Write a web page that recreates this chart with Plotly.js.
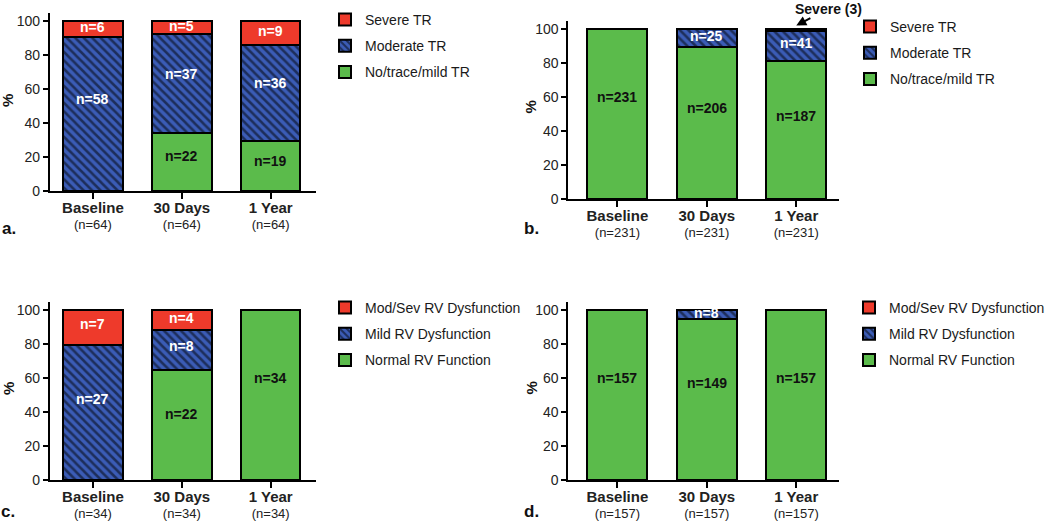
<!DOCTYPE html>
<html>
<head>
<meta charset="utf-8">
<script src="https://cdn.plot.ly/plotly-3.0.1.min.js"></script>
<style>html,body{margin:0;padding:0;background:#fff;}#chart{width:1050px;height:523px;}</style>
</head>
<body>
<div id="chart"></div>
<script>
// ---------- data ----------
const categories = ['Baseline', '30 Days', '1 Year'];

// Panel a: TR, n=64
const totalA = [64, 64, 64];
const mildTrA = [0, 22, 19];
const modTrA = [58, 37, 36];
const sevTrA = [6, 5, 9];

// Panel b: TR, n=231
const totalB = [231, 231, 231];
const mildTrB = [231, 206, 187];
const modTrB = [0, 25, 41];
const sevTrB = [0, 0, 3];

// Panel c: RV function, n=34
const totalC = [34, 34, 34];
const normRvC = [0, 22, 34];
const mildRvC = [27, 8, 0];
const sevRvC = [7, 4, 0];

// Panel d: RV function, n=157
const totalD = [157, 157, 157];
const normRvD = [157, 149, 157];
const mildRvD = [0, 8, 0];
const sevRvD = [0, 0, 0];

const trNames = ['No/trace/mild TR', 'Moderate TR', 'Severe TR'];
const rvNames = ['Normal RV Function', 'Mild RV Dysfunction', 'Mod/Sev RV Dysfunction'];

// ---------- style ----------
const FONT = 'Liberation Sans, Arial, Helvetica, sans-serif';
const GREEN = '#5bbb4b';
const BLUE = '#3b5cb6';
const RED = '#ee3a2b';
const segColors = [GREEN, BLUE, RED];
const segTextColors = ['#111', '#fff', '#fff'];

const panels = [
  {xa: 'x', ya: 'y', leg: 'legend', totals: totalA, segs: [mildTrA, modTrA, sevTrA], names: trNames},
  {xa: 'x2', ya: 'y2', leg: 'legend2', totals: totalB, segs: [mildTrB, modTrB, sevTrB], names: trNames},
  {xa: 'x3', ya: 'y3', leg: 'legend3', totals: totalC, segs: [normRvC, mildRvC, sevRvC], names: rvNames},
  {xa: 'x4', ya: 'y4', leg: 'legend4', totals: totalD, segs: [normRvD, mildRvD, sevRvD], names: rvNames}
];

const traces = [];
const annotations = [];

panels.forEach((p, pi) => {
  const pct = p.segs.map(s => s.map((v, i) => v / p.totals[i] * 100));
  pct.forEach((vals, si) => {
    const marker = {color: segColors[si], line: {color: '#000', width: 2}};
    if (si === 1) {
      marker.pattern = {shape: '\\', bgcolor: BLUE, fgcolor: '#000', size: 6, solidity: 0.42, fillmode: 'overlay'};
    }
    traces.push({
      type: 'bar', x: categories, y: vals, name: p.names[si],
      xaxis: p.xa, yaxis: p.ya, legend: p.leg, legendgroup: p.leg + '_' + si,
      legendrank: 10 - si,
      marker: marker, hoverinfo: 'skip', showlegend: true
    });
    // segment labels
    vals.forEach((v, ci) => {
      if (v < 2) return;
      let base = 0;
      for (let k = 0; k < si; k++) base += pct[k][ci];
      annotations.push({
        xref: p.xa, yref: p.ya, x: categories[ci], y: base + v * 0.6,
        text: '<b>n=' + p.segs[si][ci] + '</b>', showarrow: false,
        font: {family: FONT, size: 14, color: segTextColors[si]}
      });
    });
  });
});

// tick labels
function tickText(totals) {
  return categories.map((c, i) => '<span style="font-size:15px;font-weight:bold">' + c + '</span><br><span style="font-size:13px">(n=' + totals[i] + ')</span>');
}

const xCommon = {
  type: 'category', showgrid: false, zeroline: false, showline: true, linecolor: '#000', linewidth: 2,
  ticks: 'outside', ticklen: 6, tickwidth: 2, tickcolor: '#000',
  tickfont: {family: FONT, size: 12, color: '#222'}, fixedrange: true
};
const yCommon = {
  range: [0, 105], showgrid: false, zeroline: false, showline: true, linecolor: '#000', linewidth: 2,
  ticks: 'outside', ticklen: 5, tickwidth: 2, tickcolor: '#000', tickvals: [0, 20, 40, 60, 80, 100],
  tickfont: {family: FONT, size: 14, color: '#222'}, fixedrange: true
};

const W = 1050, H = 523;
const px = v => v / W;
const py = v => 1 - v / H;

const layout = {
  width: W, height: H, margin: {l: 0, r: 0, t: 0, b: 0},
  paper_bgcolor: '#fff', plot_bgcolor: '#fff',
  barmode: 'stack', bargap: 0.33,
  font: {family: FONT, color: '#222'},
  xaxis: Object.assign({}, xCommon, {domain: [px(50), px(316)], range: [-0.483, 2.506], anchor: 'y', tickvals: categories, ticktext: tickText(totalA)}),
  yaxis: Object.assign({}, yCommon, {domain: [py(191), py(12.5)], anchor: 'x'}),
  xaxis2: Object.assign({}, xCommon, {domain: [px(569), px(840)], range: [-0.547, 2.48], anchor: 'y2', tickvals: categories, ticktext: tickText(totalB)}),
  yaxis2: Object.assign({}, yCommon, {domain: [py(199), py(20.5)], anchor: 'x2'}),
  xaxis3: Object.assign({}, xCommon, {domain: [px(50), px(316)], range: [-0.483, 2.506], anchor: 'y3', tickvals: categories, ticktext: tickText(totalC)}),
  yaxis3: Object.assign({}, yCommon, {domain: [py(480), py(301.5)], anchor: 'x3'}),
  xaxis4: Object.assign({}, xCommon, {domain: [px(569), px(840)], range: [-0.547, 2.48], anchor: 'y4', tickvals: categories, ticktext: tickText(totalD)}),
  yaxis4: Object.assign({}, yCommon, {domain: [py(480), py(301.5)], anchor: 'x4'}),
  annotations: annotations,
  showlegend: true
};

const legCommon = {
  xanchor: 'left', yanchor: 'top', traceorder: 'grouped', tracegroupgap: 5,
  font: {family: FONT, size: 14, color: '#1a1a1a'}, bgcolor: 'rgba(0,0,0,0)', borderwidth: 0
};
layout.legend = Object.assign({}, legCommon, {x: px(325), y: py(4)});
layout.legend2 = Object.assign({}, legCommon, {x: px(850), y: py(11)});
layout.legend3 = Object.assign({}, legCommon, {x: px(325), y: py(292)});
layout.legend4 = Object.assign({}, legCommon, {x: px(850), y: py(292)});

// "%" axis titles
[[8, 100], [532, 107], [8, 388], [532, 388]].forEach(([xx, yy]) => {
  annotations.push({xref: 'paper', yref: 'paper', x: px(xx), y: py(yy), xanchor: 'center', yanchor: 'middle',
    text: '<b>%</b>', textangle: -90,
    showarrow: false, font: {family: FONT, size: 15, color: '#111'}});
});
// panel letters
[['a.', 9, 228], ['b.', 532, 228], ['c.', 8, 511], ['d.', 532, 511]].forEach(([t, xx, yy]) => {
  annotations.push({xref: 'paper', yref: 'paper', x: px(xx), y: py(yy), xanchor: 'center', yanchor: 'middle',
    text: '<b>' + t + '</b>',
    showarrow: false, font: {family: FONT, size: 17, color: '#111'}});
});
// Severe (3) callout
annotations.push({xref: 'x2', yref: 'y2', x: '1 Year', y: 102, text: '<b>Severe (3)</b>',
  showarrow: true, ax: 32, ay: -17, arrowhead: 2, arrowsize: 1, arrowwidth: 2, arrowcolor: '#000', standoff: 0,
  font: {family: FONT, size: 14, color: '#111'}});

Plotly.newPlot('chart', traces, layout, {displayModeBar: false, staticPlot: true});
</script>
</body>
</html>
